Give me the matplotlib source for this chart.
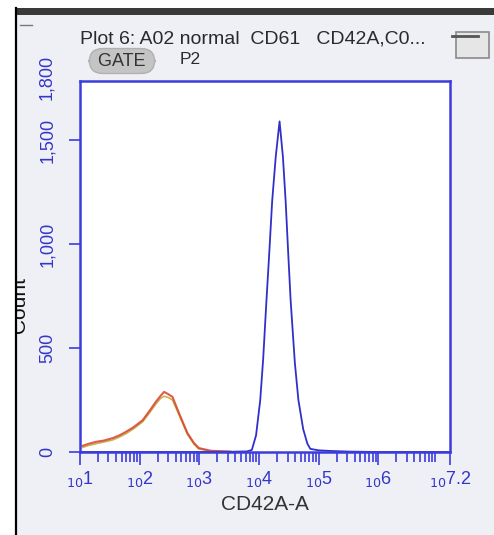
import matplotlib.pyplot as plt
import numpy as np
from matplotlib.patches import Rectangle
from matplotlib.lines import Line2D
from matplotlib import ticker, transforms

plt.rcParams['font.family'] = ['Liberation Sans', 'DejaVu Sans']

# CD42A-A histogram values (log10 position, count)
blue_log = [1.0, 2.5, 3.0, 3.5, 3.8, 3.88, 3.95, 4.02, 4.07, 4.124, 4.17, 4.22, 4.28,
            4.344, 4.40, 4.446, 4.49, 4.53, 4.60, 4.66, 4.74, 4.81, 4.86, 5.0, 5.2,
            5.5, 6.0, 7.2]
blue_count = [0, 0, 0, 1, 3, 10, 80, 249, 450, 727, 950, 1206, 1420,
              1590, 1420, 1206, 950, 727, 430, 249, 110, 40, 15, 8, 5,
              2, 0, 0]

red_log = [1.045, 1.15, 1.27, 1.4, 1.55, 1.66, 1.77, 1.9, 2.05, 2.17, 2.27, 2.35,
           2.41, 2.48, 2.55, 2.66, 2.80, 2.91, 2.99, 3.19, 3.52]
red_count = [30, 40, 49, 55, 67, 80, 97, 120, 153, 200, 241, 270,
             289, 278, 265, 186, 91, 43, 19, 6, 2]

yellow_log = [1.045, 1.15, 1.27, 1.4, 1.55, 1.66, 1.77, 1.9, 2.05, 2.17, 2.27, 2.35,
              2.41, 2.48, 2.55, 2.66, 2.80, 2.91, 2.99, 3.19, 3.52]
yellow_count = [22, 32, 40, 48, 58, 72, 88, 112, 145, 190, 230, 258,
                268, 262, 250, 178, 85, 38, 15, 4, 1]

yticks = [0, 500, 1000, 1500]
ytick_labels = ['0', '500', '1,000', '1,500']
ytop = 1800
ytop_label = '1,800'
xtick_exp = [1, 2, 3, 4, 5, 6, 7.2]
xtick_labels = ['$_{10}$1', '$_{10}$2', '$_{10}$3', '$_{10}$4', '$_{10}$5', '$_{10}$6', '$_{10}$7.2']

W, H = 494, 535
blue = '#3c3cdc'
label_blue = '#3535c8'

fig = plt.figure(figsize=(W / 100, H / 100), dpi=100)
fig.patch.set_facecolor('white')

# window background, dark top bar, left border
fig.patches.append(Rectangle((16 / W, 0), 1 - 16 / W, 1 - 15 / H, transform=fig.transFigure,
                             fc='#eef0f5', ec='none', zorder=-5))
fig.patches.append(Rectangle((15 / W, 1 - 15 / H), 1 - 15 / W, 7 / H, transform=fig.transFigure,
                             fc='#3a3a3a', ec='none', zorder=1))
fig.patches.append(Rectangle((0, 0), 15 / W, 1, transform=fig.transFigure,
                             fc='white', ec='none', zorder=10))
fig.lines.append(Line2D([15.5 / W, 15.5 / W], [0, 1 - 8 / H], transform=fig.transFigure,
                        color='black', lw=1.6, zorder=11))
fig.lines.append(Line2D([20 / W, 32 / W], [1 - 25 / H, 1 - 25 / H], transform=fig.transFigure,
                        color='#777777', lw=1))

# small button top right
fig.patches.append(Rectangle((456 / W, 1 - 58 / H), 33 / W, 26 / H, transform=fig.transFigure,
                             fc='#e6e6e6', ec='#8a8a8a', lw=1.2, zorder=2))
fig.lines.append(Line2D([452 / W, 478 / W], [1 - 36 / H, 1 - 36 / H], transform=fig.transFigure,
                        color='#555555', lw=2, zorder=3))

# title and gate
fig.text(80 / W, 1 - 39 / H, 'Plot 6: A02 normal  CD61   CD42A,C0...', fontsize=14,
         color='#2a2a2a', va='center', ha='left')
fig.text(122 / W, 1 - 61 / H, ' GATE ', fontsize=13, color='#333333', va='center', ha='center',
         bbox=dict(boxstyle='round,pad=0.22,rounding_size=0.75', fc='#c4c4c4', ec='#b0b0b0'))
fig.text(180 / W, 1 - 60 / H, 'P2', fontsize=12.5, color='#2a2a2a', va='center', ha='left')

ax = fig.add_axes([80 / W, 1 - 452 / H, (450 - 80) / W, (452 - 81) / H], zorder=2)
ax.set_facecolor('white')

ax.plot(10 ** np.array(yellow_log), yellow_count, color='#c2ad3a', lw=1.2, alpha=0.9)
ax.plot(10 ** np.array(red_log), red_count, color='#d8402c', lw=1.5, alpha=0.85)
ax.plot(10 ** np.array(blue_log), blue_count, color='#3030c8', lw=1.3)

ax.set_xscale('log')
ax.set_xlim(10, 10 ** 7.2)
ax.set_ylim(0, 1784)

ax.set_xticks([10 ** e for e in xtick_exp])
ax.set_xticklabels(xtick_labels)
ax.xaxis.set_minor_locator(ticker.LogLocator(base=10, subs=np.arange(2, 10), numticks=20))
ax.xaxis.set_minor_formatter(ticker.NullFormatter())
ax.set_yticks(yticks)
ax.set_yticklabels(ytick_labels, rotation=90, va='center')

ax.tick_params(axis='x', which='major', direction='out', length=9, width=1.2, color=blue,
               labelcolor=label_blue, labelsize=13, pad=3)
ax.tick_params(axis='x', which='minor', direction='out', length=7, width=1.2, color=blue)
ax.tick_params(axis='y', direction='out', length=8, width=1.2, color=blue,
               labelcolor=label_blue, labelsize=13, pad=9)

trans = transforms.blended_transform_factory(ax.transAxes, ax.transData)
ax.text(-0.09, ytop, ytop_label, transform=trans, rotation=90, fontsize=13, color=label_blue,
        ha='center', va='center', clip_on=False)

for s in ax.spines.values():
    s.set_color(blue)
    s.set_linewidth(1.8)

fig.text(265 / W, 1 - 505 / H, 'CD42A-A', fontsize=15, color='#333333', ha='center', va='center')
fig.text(20 / W, 1 - 305 / H, 'Count', fontsize=15, color='#111111', ha='center', va='center',
         rotation=90, zorder=5)

fig.savefig('out.png', dpi=100)
